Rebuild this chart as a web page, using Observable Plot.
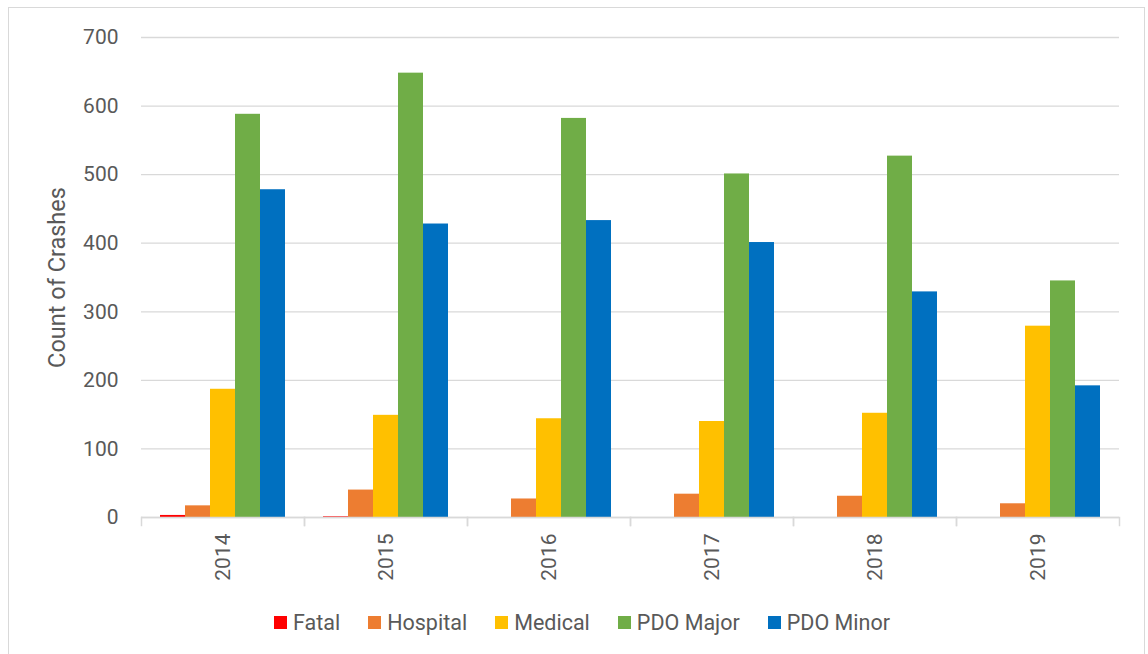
<!DOCTYPE html>
<html>
<head>
<meta charset="utf-8">
<script src="https://cdn.jsdelivr.net/npm/d3@7"></script>
<script src="https://cdn.jsdelivr.net/npm/@observablehq/plot@0.6"></script>
<style>
  html, body { margin: 0; padding: 0; background: #fff; }
  #wrap { position: relative; width: 1148px; height: 654px; overflow: hidden; font-family: Roboto, sans-serif; }
  #border { position: absolute; left: 8px; top: 7px; width: 1137px; height: 700px; border: 1px solid #d9d9d9; box-sizing: border-box; pointer-events: none; }
  #chart { position: absolute; left: 0; top: 0; }
  #legend { position: absolute; left: 8px; top: 606px; width: 1148px; }
  .lg-swatches { justify-content: center; font-family: Roboto, sans-serif; font-size: 21.5px; color: #595959; }
  .lg-swatch { margin-right: 28px !important; }
  .lg-swatch:last-child { margin-right: 0 !important; }
  .lg-swatch svg { margin-right: 6px !important; }
</style>
</head>
<body>
<div id="wrap">
  <div id="border"></div>
  <div id="chart"></div>
  <div id="legend"></div>
</div>
<script>
const years = ["2014", "2015", "2016", "2017", "2018", "2019"];
const types = ["Fatal", "Hospital", "Medical", "PDO Major", "PDO Minor"];
const colors = ["#FF0000", "#ED7D31", "#FFC000", "#70AD47", "#0070C0"];
const fatal    = [3, 1, 0, 0, 0, 0];
const hospital = [17, 40, 27, 34, 31, 20];
const medical  = [187, 149, 144, 140, 152, 279];
const pdoMajor = [588, 648, 582, 501, 527, 345];
const pdoMinor = [478, 428, 433, 401, 329, 192];
const yTicks = [0, 100, 200, 300, 400, 500, 600, 700];

const series = [fatal, hospital, medical, pdoMajor, pdoMinor];
const data = [];
years.forEach((yr, i) => {
  types.forEach((t, k) => data.push({year: yr, type: t, value: series[k][i]}));
});

const grey = "#d9d9d9";
const textColor = "#595959";

const chart = Plot.plot({
  width: 1148,
  height: 600,
  marginLeft: 141,
  marginRight: 29,
  marginTop: 37,
  marginBottom: 83,
  style: {fontFamily: "Roboto, sans-serif", fontSize: "21px", color: textColor, background: "transparent"},
  fx: {domain: years, padding: 0, label: null},
  x: {domain: types, paddingInner: 0, paddingOuter: 0.76, axis: null},
  y: {domain: [0, 700]},
  color: {domain: types, range: colors},
  marks: [
    Plot.gridY(yTicks, {stroke: grey, strokeOpacity: 1, strokeWidth: 1.3}),
    Plot.barY(data, {fx: "year", x: "type", y: "value", fill: "type"}),
    Plot.ruleY([0], {stroke: grey, strokeWidth: 1.5}),
    Plot.frame({anchor: "left", stroke: grey, strokeWidth: 1.5, insetTop: 480, insetBottom: -8}),
    Plot.frame({anchor: "right", stroke: grey, strokeWidth: 1.5, insetTop: 480, insetBottom: -8}),
    Plot.axisY(yTicks, {tickSize: 0, tickPadding: 23, label: "Count of Crashes", labelAnchor: "center", labelOffset: 93, labelArrow: "none", fontSize: 21}),
    Plot.axisFx({anchor: "bottom", tickSize: 0, tickPadding: 16, tickRotate: -90, label: null, fontSize: 21})
  ]
});
document.getElementById("chart").appendChild(chart);

// enlarge axis title slightly
chart.querySelectorAll("g[aria-label='y-axis label'] text").forEach(t => t.setAttribute("font-size", "23.5"));

const legend = Plot.legend({
  color: {domain: types, range: colors},
  legend: "swatches",
  swatchSize: 13,
  className: "lg",
  style: {fontFamily: "Roboto, sans-serif", fontSize: "21.5px", color: textColor}
});
document.getElementById("legend").appendChild(legend);
</script>
</body>
</html>
